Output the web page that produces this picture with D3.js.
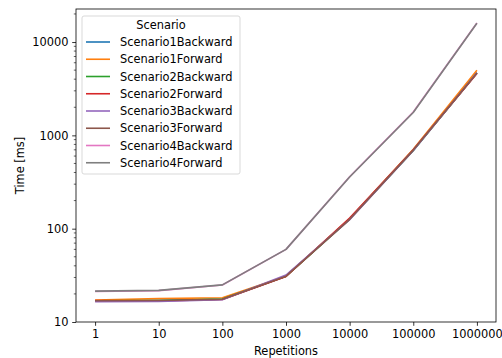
<!DOCTYPE html>
<html>
<head>
<meta charset="utf-8">
<script src="https://cdn.jsdelivr.net/npm/d3@7"></script>
<style>
  body { margin: 0; background: #fff; }
  svg { display: block; font-family: "DejaVu Sans", sans-serif; }
</style>
</head>
<body>
<div id="chart"></div>
<script>
// repetitions on x, time in ms on y
const repetitions = [1, 10, 100, 1000, 10000, 100000, 1000000];
const xTickLabels = ["1", "10", "100", "1000", "10000", "100000", "1000000"];
const yTickValues = [10, 100, 1000, 10000];

const seriesNames = [
  "Scenario1Backward", "Scenario1Forward",
  "Scenario2Backward", "Scenario2Forward",
  "Scenario3Backward", "Scenario3Forward",
  "Scenario4Backward", "Scenario4Forward"
];
const scenario1Backward = [16.8, 17.0, 17.5, 31, 127, 690, 4700];
const scenario1Forward  = [17.2, 17.8, 18.2, 31, 128, 710, 5000];
const scenario2Backward = [16.9, 17.0, 17.6, 31, 126, 690, 4650];
const scenario2Forward  = [17.0, 16.8, 17.4, 30.8, 130, 700, 4600];
const scenario3Backward = [16.5, 16.6, 17.3, 31.8, 125, 690, 4700];
const scenario3Forward  = [16.9, 17.0, 17.5, 31, 126, 695, 4650];
const scenario4Backward = [21.3, 21.7, 24.9, 60, 360, 1780, 16000];
const scenario4Forward  = [21.4, 21.8, 25.0, 60, 358, 1760, 15900];

const seriesValues = [
  scenario1Backward, scenario1Forward, scenario2Backward, scenario2Forward,
  scenario3Backward, scenario3Forward, scenario4Backward, scenario4Forward
];
const colors = ["#1f77b4", "#ff7f0e", "#2ca02c", "#d62728",
                "#9467bd", "#8c564b", "#e377c2", "#7f7f7f"];

const fontSize = 11.4;
const W = 502, H = 358;
const margin = { top: 9, right: 6, bottom: 36, left: 76 };
const width = W - margin.left - margin.right,
  height = H - margin.top - margin.bottom;

const svg = d3.select("#chart").append("svg")
  .attr("width", W).attr("height", H);

const g = svg.append("g")
  .attr("transform", `translate(${margin.left},${margin.top})`);

// x: log scale with 5% padding on each side like matplotlib
const pad = 0.3;
const xScale = d3.scaleLog()
  .domain([Math.pow(10, -pad), Math.pow(10, 6 + pad)])
  .range([0, width]);

const yScale = d3.scaleLog()
  .domain([10, 22600])
  .range([height, 0]);

// minor ticks on y
const minorTicks = [];
for (let d = 10; d < 100000; d *= 10) {
  for (let k = 2; k <= 9; k++) {
    if (d * k <= yScale.domain()[1]) minorTicks.push(d * k);
  }
}
g.append("g")
  .selectAll("line")
  .data(minorTicks)
  .join("line")
  .attr("x1", -2.2).attr("x2", 0)
  .attr("y1", d => yScale(d)).attr("y2", d => yScale(d))
  .attr("stroke", "#000").attr("stroke-width", 0.6);

const yAxis = d3.axisLeft(yScale)
  .tickValues(yTickValues)
  .tickFormat(d3.format("d"))
  .tickSize(3.8).tickPadding(3.8);
g.append("g").call(yAxis)
  .call(a => a.select(".domain").remove())
  .call(a => a.selectAll("text").attr("font-size", fontSize).attr("fill", "#000")
    .attr("font-family", "DejaVu Sans"))
  .call(a => a.selectAll("line").attr("stroke-width", 0.8));

const xAxis = d3.axisBottom(xScale)
  .tickValues(repetitions)
  .tickFormat((d, i) => xTickLabels[i])
  .tickSize(3.8).tickPadding(3.8);
g.append("g")
  .attr("transform", `translate(0,${height})`)
  .call(xAxis)
  .call(a => a.select(".domain").remove())
  .call(a => a.selectAll("text").attr("font-size", fontSize).attr("fill", "#000")
    .attr("font-family", "DejaVu Sans"))
  .call(a => a.selectAll("line").attr("stroke-width", 0.8));

// lines
const line = d3.line()
  .x((d, i) => xScale(repetitions[i]))
  .y(d => yScale(d));

g.append("g")
  .selectAll("path")
  .data(seriesValues)
  .join("path")
  .attr("fill", "none")
  .attr("stroke", (d, i) => colors[i])
  .attr("stroke-width", 1.6)
  .attr("stroke-linejoin", "round")
  .attr("d", line);

// frame
g.append("rect")
  .attr("width", width).attr("height", height)
  .attr("fill", "none").attr("stroke", "#000").attr("stroke-width", 0.8);

// axis labels
svg.append("text")
  .attr("x", margin.left + width / 2).attr("y", H - 3)
  .attr("text-anchor", "middle").attr("font-size", fontSize)
  .text("Repetitions");
svg.append("text")
  .attr("transform", `translate(24,${margin.top + height / 2}) rotate(-90)`)
  .attr("text-anchor", "middle").attr("font-size", fontSize)
  .text("Time [ms]");

// legend
const legend = svg.append("g").attr("transform", "translate(82,16)");
legend.append("rect")
  .attr("width", 158).attr("height", 158).attr("rx", 2)
  .attr("fill", "#fff").attr("fill-opacity", 0.8)
  .attr("stroke", "#d9d9d9").attr("stroke-width", 1);
legend.append("text")
  .attr("x", 79).attr("y", 13)
  .attr("text-anchor", "middle").attr("font-size", fontSize)
  .text("Scenario");
const items = legend.selectAll("g.item")
  .data(seriesNames)
  .join("g")
  .attr("class", "item")
  .attr("transform", (d, i) => `translate(0,${26 + i * 17.25})`);
items.append("line")
  .attr("x1", 4).attr("x2", 28)
  .attr("stroke", (d, i) => colors[i]).attr("stroke-width", 1.6);
items.append("text")
  .attr("x", 38).attr("y", 4)
  .attr("font-size", fontSize)
  .text(d => d);
</script>
</body>
</html>
